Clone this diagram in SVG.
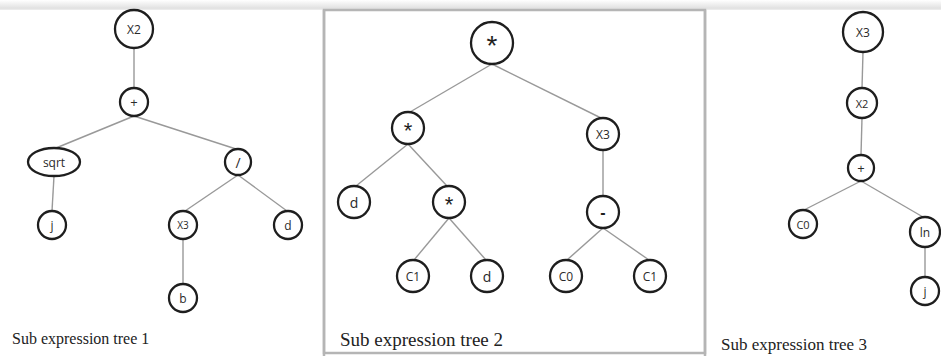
<svg xmlns="http://www.w3.org/2000/svg" width="941" height="356" viewBox="0 0 941 356">
<defs>
<linearGradient id="topband" x1="0" y1="0" x2="0" y2="1">
<stop offset="0" stop-color="#ffffff"/>
<stop offset="1" stop-color="#dedede"/>
</linearGradient>
</defs>
<style>
.n{fill:#fff;stroke:#1e1e1e;stroke-width:2.3}
.t{font-family:"Open Sans","Liberation Sans",sans-serif;font-size:11px;fill:#2a2a2a;text-anchor:middle;dominant-baseline:central}
.s{font-family:"Liberation Sans",sans-serif;fill:#1e1e1e;text-anchor:middle}
.e{stroke:#999;stroke-width:1.4;fill:none}
.cap{font-family:"Liberation Serif","Times New Roman",serif;fill:#222}
.frame{stroke:#b5b5b5;stroke-width:2.5;fill:none}
</style>
<rect x="0" y="0" width="941" height="356" fill="#fff"/>
<rect x="0" y="0" width="941" height="9" fill="url(#topband)"/>
<g id="frames">
<line x1="0" y1="9" x2="941" y2="9" style="stroke:#e4e4e4;stroke-width:1.5"/>
<rect class="frame" x="324" y="10" width="381" height="343"/>
<line class="frame" x1="705" y1="10" x2="705" y2="356"/>
<line class="frame" x1="324" y1="10" x2="324" y2="356"/>
</g>
<g id="connectors">
<line class="e" x1="134" y1="48" x2="134" y2="88"/>
<line class="e" x1="134" y1="116" x2="56" y2="148"/>
<line class="e" x1="134" y1="116" x2="236" y2="149"/>
<line class="e" x1="54" y1="176" x2="52" y2="211"/>
<line class="e" x1="238" y1="175" x2="185" y2="211"/>
<line class="e" x1="238" y1="175" x2="287" y2="211"/>
<line class="e" x1="183" y1="239" x2="183" y2="284"/>
<line class="e" x1="492" y1="64" x2="410" y2="112"/>
<line class="e" x1="492" y1="64" x2="601" y2="118"/>
<line class="e" x1="408" y1="144" x2="356" y2="186"/>
<line class="e" x1="408" y1="144" x2="447" y2="186"/>
<line class="e" x1="603" y1="150" x2="603" y2="196"/>
<line class="e" x1="449" y1="218" x2="414" y2="260"/>
<line class="e" x1="449" y1="218" x2="486" y2="260"/>
<line class="e" x1="603" y1="228" x2="567" y2="260"/>
<line class="e" x1="603" y1="228" x2="649" y2="260"/>
<line class="e" x1="863" y1="52" x2="862" y2="88"/>
<line class="e" x1="862" y1="118" x2="861" y2="155"/>
<line class="e" x1="861" y1="181" x2="804" y2="210"/>
<line class="e" x1="861" y1="181" x2="923" y2="217"/>
<line class="e" x1="925" y1="247" x2="925" y2="277"/>
</g>
<g id="t1-x2"><circle class="n" cx="134" cy="29" r="19"/><text class="t" x="134" y="29" style="font-size:12px">X2</text></g>
<g id="t1-plus"><circle class="n" cx="134" cy="102" r="14"/><text class="t" x="134" y="102" style="font-size:13px">+</text></g>
<g id="t1-sqrt"><ellipse class="n" cx="54" cy="162" rx="26" ry="14"/><text class="t" x="54" y="162" style="font-size:12px">sqrt</text></g>
<g id="t1-div"><circle class="n" cx="238" cy="162" r="13"/><text class="t" x="238" y="162" style="font-size:14px">/</text></g>
<g id="t1-j"><circle class="n" cx="52" cy="225" r="14"/><text class="t" x="52" y="225" style="font-size:12px">j</text></g>
<g id="t1-x3"><circle class="n" cx="183" cy="225" r="14"/><text class="t" x="183" y="225" style="font-size:10px">X3</text></g>
<g id="t1-d"><circle class="n" cx="288" cy="225" r="14"/><text class="t" x="288" y="225" style="font-size:12px">d</text></g>
<g id="t1-b"><circle class="n" cx="183" cy="298" r="14"/><text class="t" x="183" y="298" style="font-size:12px">b</text></g>
<text class="cap" x="12" y="344" font-size="16">Sub expression tree 1</text>

<g id="t2-root"><circle class="n" cx="492" cy="43" r="21"/><text class="s" x="492" y="55" font-size="28">*</text></g>
<g id="t2-mul1"><circle class="n" cx="408" cy="128" r="16"/><text class="s" x="408" y="138" font-size="22">*</text></g>
<g id="t2-x3"><circle class="n" cx="603" cy="134" r="16"/><text class="t" x="603" y="134" style="font-size:12px">X3</text></g>
<g id="t2-d1"><circle class="n" cx="354" cy="202" r="16"/><text class="t" x="354" y="202" style="font-size:14px">d</text></g>
<g id="t2-mul2"><circle class="n" cx="449" cy="202" r="16"/><text class="s" x="449" y="212" font-size="22">*</text></g>
<g id="t2-minus"><circle class="n" cx="603" cy="212" r="16"/><text class="s" x="603" y="218" font-size="16" font-weight="bold">-</text></g>
<g id="t2-c1a"><circle class="n" cx="413" cy="276" r="16"/><text class="t" x="413" y="276" style="font-size:12px">C1</text></g>
<g id="t2-d2"><circle class="n" cx="487" cy="276" r="16"/><text class="t" x="487" y="276" style="font-size:14px">d</text></g>
<g id="t2-c0"><circle class="n" cx="566" cy="276" r="16"/><text class="t" x="566" y="276" style="font-size:12px">C0</text></g>
<g id="t2-c1b"><circle class="n" cx="650" cy="276" r="16"/><text class="t" x="650" y="276" style="font-size:12px">C1</text></g>
<text class="cap" x="340" y="346" font-size="19">Sub expression tree 2</text>

<g id="t3-x3"><circle class="n" cx="863" cy="32" r="20"/><text class="t" x="863" y="32" style="font-size:12px">X3</text></g>
<g id="t3-x2"><circle class="n" cx="862" cy="103" r="15"/><text class="t" x="862" y="103">X2</text></g>
<g id="t3-plus"><circle class="n" cx="861" cy="168" r="13"/><text class="t" x="861" y="168" style="font-size:13px">+</text></g>
<g id="t3-c0"><circle class="n" cx="803" cy="224" r="14"/><text class="t" x="803" y="224">C0</text></g>
<g id="t3-ln"><circle class="n" cx="925" cy="232" r="15"/><text class="t" x="925" y="232" style="font-size:12px">ln</text></g>
<g id="t3-j"><circle class="n" cx="925" cy="291" r="14"/><text class="t" x="925" y="291" style="font-size:12px">j</text></g>
<text class="cap" x="721" y="350" font-size="17">Sub expression tree 3</text>
</svg>
